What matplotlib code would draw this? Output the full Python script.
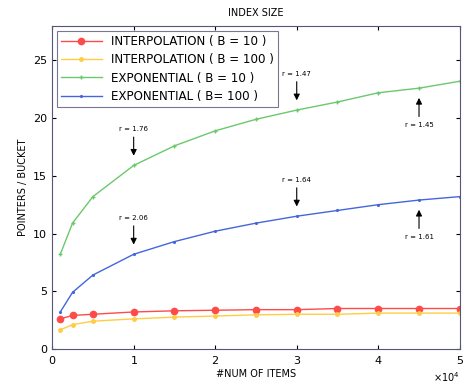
import matplotlib.pyplot as plt
from matplotlib.ticker import ScalarFormatter

num_items = [1000, 2500, 5000, 10000, 15000, 20000, 25000, 30000, 35000, 40000, 45000, 50000]

interp_b10 = [2.6, 2.9, 3.0, 3.2, 3.3, 3.35, 3.4, 3.4, 3.5, 3.5, 3.5, 3.5]
interp_b100 = [1.65, 2.1, 2.4, 2.6, 2.75, 2.85, 2.95, 3.0, 3.0, 3.1, 3.1, 3.1]
expo_b10 = [8.2, 10.9, 13.2, 15.9, 17.6, 18.9, 19.9, 20.7, 21.4, 22.2, 22.6, 23.2]
expo_b100 = [3.2, 4.9, 6.4, 8.2, 9.3, 10.2, 10.9, 11.5, 12.0, 12.5, 12.9, 13.2]

# (label, x index, series, side)
ratios = [
    ("r = 1.76", 3, "expo_b10", "above"),
    ("r = 2.06", 3, "expo_b100", "above"),
    ("r = 1.47", 7, "expo_b10", "above"),
    ("r = 1.64", 7, "expo_b100", "above"),
    ("r = 1.45", 10, "expo_b10", "below"),
    ("r = 1.61", 10, "expo_b100", "below"),
]

series = {"expo_b10": expo_b10, "expo_b100": expo_b100}

fig = plt.figure(figsize=(4.74, 3.92), dpi=100)
ax = fig.add_axes([0.110, 0.110, 0.860, 0.824])

ax.plot(num_items, interp_b10, color="#ff4a4a", lw=1, marker="o", ms=4.5,
        label="INTERPOLATION ( B = 10 )")
ax.plot(num_items, interp_b100, color="#ffcc44", lw=1, marker="o", ms=2.5,
        label="INTERPOLATION ( B = 100 )")
ax.plot(num_items, expo_b10, color="#6cc86c", lw=1, marker="+", ms=3,
        label="EXPONENTIAL ( B = 10 )")
ax.plot(num_items, expo_b100, color="#4466dd", lw=1, marker=".", ms=2.5,
        label="EXPONENTIAL ( B= 100 )")

for label, i, key, side in ratios:
    x = num_items[i]
    y = series[key][i]
    s = 1 if side == "above" else -1
    ax.annotate("", xy=(x, y + s * 0.6), xytext=(x, y + s * 2.7),
                arrowprops=dict(arrowstyle="-|>", color="black", lw=0.8,
                                mutation_scale=9))
    ax.text(x, y + s * 2.9, label, ha="center",
            va="bottom" if s > 0 else "top", fontsize=5)

ax.set_xlim(0, 50000)
ax.set_ylim(0, 28)
ax.set_yticks([0, 5, 10, 15, 20, 25])
fmt = ScalarFormatter(useMathText=True)
fmt.set_powerlimits((0, 0))
ax.xaxis.set_major_formatter(fmt)
ax.xaxis.get_offset_text().set_fontsize(7)
ax.tick_params(direction="in", labelsize=8, length=3, top=True, right=True)
for sp in ax.spines.values():
    sp.set_color("#555577")
    sp.set_linewidth(0.8)

ax.set_title("INDEX SIZE", fontsize=7, pad=7)
ax.set_xlabel("#NUM OF ITEMS", fontsize=7, labelpad=2)
ax.set_ylabel("POINTERS / BUCKET", fontsize=7, labelpad=4)

leg = ax.legend(loc="upper left", fontsize=8.6, frameon=True, fancybox=False,
                borderpad=0.35, labelspacing=0.45, handlelength=3.4,
                borderaxespad=0.4, edgecolor="#555577")
leg.get_frame().set_linewidth(0.8)

plt.savefig("out.png", dpi=100)
